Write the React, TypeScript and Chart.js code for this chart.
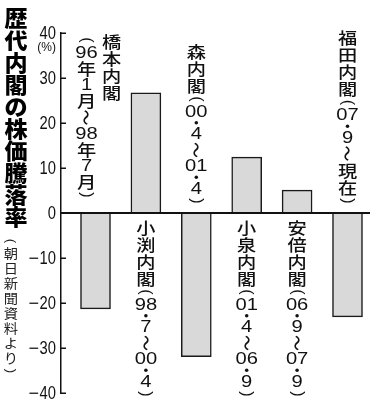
import React, { useEffect, useRef } from 'react';
import { Chart, registerables } from 'chart.js';

Chart.register(...registerables);

// ---- data ----
const cabinets = ['橋本内閣', '小渕内閣', '森内閣', '小泉内閣', '安倍内閣', '福田内閣'];
const periods = ['96年1月~98年7月', '98·7~00·4', '00·4~01·4', '01·4~06·9', '06·9~07·9', '07·9~現在'];
const changes = [-21.3, 26.7, -31.9, 12.4, 5.1, -23.1];
const yTicks = [-40, -30, -20, -10, 0, 10, 20, 30, 40];
const titleText = '歴代内閣の株価騰落率';
const sourceText = '(朝日新聞資料より)';
const unitText = '(%)';

const CJK = '"Noto Sans CJK JP", sans-serif';
const LAT = '"Liberation Sans", Arial, sans-serif';

type VOpt = {
  size: number; weight: string; sx: number; kanji: number; paren: number;
  digit: number; dot: number; tilde: number; color: string;
};

function tokenize(s: string): string[] {
  const out: string[] = [];
  let i = 0;
  while (i < s.length) {
    if (/[0-9]/.test(s[i])) {
      let j = i;
      while (j < s.length && /[0-9]/.test(s[j])) j++;
      out.push(s.slice(i, j));
      i = j;
    } else {
      out.push(s[i]);
      i++;
    }
  }
  return out;
}

function cellH(t: string, o: VOpt) {
  if (t === '(' || t === ')') return o.paren;
  if (/^[0-9]+$/.test(t)) return o.digit;
  if (t === '·') return o.dot;
  if (t === '~') return o.tilde;
  return o.kanji;
}

function colHeight(tokens: string[], o: VOpt) {
  return tokens.reduce((a, t) => a + cellH(t, o), 0);
}

function drawCol(ctx: CanvasRenderingContext2D, tokens: string[], cx: number, top: number, o: VOpt) {
  let y = top;
  for (const t of tokens) {
    const h = cellH(t, o);
    const cy = y + h / 2;
    ctx.save();
    ctx.translate(cx, cy);
    ctx.fillStyle = o.color;
    ctx.textAlign = 'center';
    ctx.textBaseline = 'middle';
    if (t === '(' || t === ')') {
      ctx.rotate(Math.PI / 2);
      ctx.font = `${o.size}px ${LAT}`;
      ctx.fillText(t, 0, 0);
    } else if (t === '~') {
      ctx.rotate(Math.PI / 2);
      ctx.font = `${o.weight} ${o.size}px ${CJK}`;
      ctx.fillText('〜', 0, 0);
    } else if (t === '·') {
      ctx.beginPath();
      ctx.arc(0, 0, o.size * 0.11, 0, Math.PI * 2);
      ctx.fill();
    } else if (/^[0-9]+$/.test(t)) {
      ctx.scale(o.sx * 1.05, 1);
      ctx.font = `${o.size}px ${LAT}`;
      ctx.fillText(t, 0, 1);
    } else {
      ctx.scale(o.sx, 1);
      ctx.font = `${o.weight} ${o.size}px ${CJK}`;
      ctx.fillText(t, 0, 0);
    }
    ctx.restore();
    y += h;
  }
}

const labelOpt: VOpt = { size: 16, weight: '500', sx: 1.2, kanji: 17, paren: 10, digit: 15, dot: 7.5, tilde: 17, color: '#111' };
const titleOpt: VOpt = { size: 22, weight: '900', sx: 1.05, kanji: 22.1, paren: 12, digit: 20, dot: 10, tilde: 22, color: '#000' };
const sourceOpt: VOpt = { size: 13, weight: '400', sx: 1.1, kanji: 15, paren: 10, digit: 13, dot: 7, tilde: 15, color: '#222' };

const decorPlugin = {
  id: 'decor',
  afterDatasetsDraw(chart: any) {
    const { ctx, chartArea, scales } = chart;
    const y = scales.y;
    const x = scales.x;
    const zero = y.getPixelForValue(0);
    ctx.save();
    // inner ticks
    ctx.strokeStyle = '#111';
    ctx.lineWidth = 1.5;
    yTicks.forEach((v) => {
      const py = Math.round(y.getPixelForValue(v)) + 0.25;
      ctx.beginPath();
      ctx.moveTo(chartArea.left, py);
      ctx.lineTo(chartArea.left + 5, py);
      ctx.stroke();
    });
    // zero line
    ctx.lineWidth = 2;
    ctx.beginPath();
    ctx.moveTo(chartArea.left, zero);
    ctx.lineTo(chartArea.right, zero);
    ctx.stroke();
    ctx.restore();

    // tick labels (condensed digits, long minus)
    ctx.save();
    ctx.fillStyle = '#111';
    ctx.textAlign = 'right';
    ctx.textBaseline = 'middle';
    yTicks.forEach((v) => {
      const py = y.getPixelForValue(v);
      const digits = String(Math.abs(v));
      ctx.font = `18px ${LAT}`;
      const dw = ctx.measureText(digits).width * 0.82;
      ctx.save();
      ctx.translate(56, py + 1);
      ctx.scale(0.82, 1);
      ctx.fillText(digits, 0, 0);
      ctx.restore();
      if (v < 0) {
        ctx.fillText('−', 56 - dw - 0.5, py + 1);
      }
    });
    // unit
    ctx.font = `12px ${LAT}`;
    ctx.fillText(unitText, 56, y.getPixelForValue(40) + 15);
    ctx.restore();

    // title and source
    drawCol(ctx, tokenize(titleText), 16, 7, titleOpt);
    drawCol(ctx, tokenize(sourceText), 11, 236, sourceOpt);

    // cabinet labels
    cabinets.forEach((name, i) => {
      const cx = x.getPixelForValue(i);
      const nameT = tokenize(name);
      const perT = tokenize('(' + periods[i] + ')');
      const hN = colHeight(nameT, labelOpt);
      const hP = colHeight(perT, labelOpt);
      if (changes[i] < 0) {
        const bottom = zero - 7;
        const avail = bottom - (chartArea.top - 10);
        if (hN + hP > avail) {
          drawCol(ctx, nameT, cx + 16, chartArea.top, labelOpt);
          drawCol(ctx, perT, cx - 9, chartArea.top + 2, labelOpt);
        } else {
          drawCol(ctx, [...nameT, ...perT], cx, bottom - hN - hP, labelOpt);
        }
      } else {
        drawCol(ctx, [...nameT, ...perT], cx, zero + 6, labelOpt);
      }
    });
  },
};

export default function App() {
  const ref = useRef<HTMLCanvasElement | null>(null);
  useEffect(() => {
    if (!ref.current) return;
    const chart = new Chart(ref.current, {
      type: 'bar',
      data: {
        datasets: [
          {
            data: changes.map((v, i) => ({ x: i, y: v })),
            backgroundColor: '#d9d9d9',
            borderColor: '#1a1a1a',
            borderWidth: 1.5,
            barThickness: 30,
          },
        ],
      },
      options: {
        responsive: false,
        animation: false,
        layout: { padding: { left: 0, right: 8, top: 33, bottom: 17 } },
        plugins: { legend: { display: false }, tooltip: { enabled: false } },
        scales: {
          x: {
            type: 'linear',
            display: false,
            offset: false,
            min: -0.6845,
            max: 5.4465,
          },
          y: {
            min: -40,
            max: 40,
            afterFit: (s: any) => { s.width = 61; },
            afterBuildTicks: (s: any) => { s.ticks = yTicks.map((v) => ({ value: v })); },
            ticks: { display: false },
            grid: { display: true, drawOnChartArea: false, drawTicks: false },
            border: { display: true, color: '#111', width: 1.5 },
          },
        },
      },
      plugins: [decorPlugin],
    });
    return () => chart.destroy();
  }, []);
  return (
    <div style={{ position: 'absolute', left: 0, top: 0, width: 378, height: 410, background: '#fff' }}>
      <canvas ref={ref} width={378} height={410} style={{ display: 'block' }} />
    </div>
  );
}
